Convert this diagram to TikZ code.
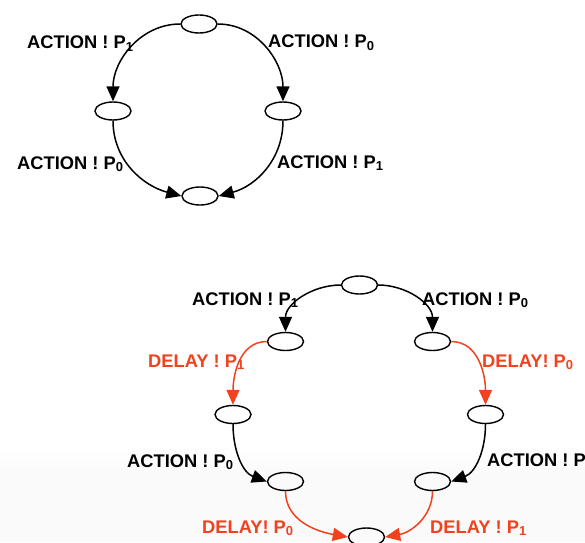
\documentclass[tikz,border=0pt]{standalone}
\usepackage{fontspec}
\setmainfont{Liberation Sans}
\usetikzlibrary{shapes.geometric,arrows.meta}
\definecolor{dred}{RGB}{240,66,30}
\newcommand{\lbl}[2]{#1\raisebox{-2.8pt}{\fontsize{13}{13}\selectfont #2}}
\begin{document}
\begin{tikzpicture}[x=1pt,y=1pt,
  st/.style={ellipse,draw,line width=1.4pt,minimum width=36pt,minimum height=18pt,inner sep=0pt},
  tr/.style={line width=1.5pt,-{Triangle[length=15pt,width=13pt]}},
  rtr/.style={tr,draw=dred},
  txt/.style={font=\fontsize{18.3}{18.3}\selectfont\bfseries,anchor=base west,inner sep=0pt},
  rtxt/.style={txt,text=dred}]
\useasboundingbox (0,0) rectangle (585,542);
\fill[black!2] (0,0) rectangle (585,65);
\shade[top color=white,bottom color=black!2] (0,65) rectangle (585,100);
% top diagram
\node[st] (t1) at (199,518) {};
\node[st] (l1) at (113,431) {};
\node[st] (r1) at (283,431) {};
\node[st] (b1) at (200,346) {};
\draw[tr] (t1.west) to[out=180,in=90] (l1.north);
\draw[tr] (t1.east) to[out=0,in=90] (r1.north);
\draw[tr] (l1.south) to[out=-90,in=165] (b1.west);
\draw[tr] (r1.south) to[out=-90,in=15] (b1.east);
\node[txt] (a1) at (27,493) {\lbl{ACTION ! P}{1}};
\node[txt] (a2) at (268,494) {\lbl{ACTION ! P}{0}};
\node[txt] (a3) at (17,373) {\lbl{ACTION ! P}{0}};
\node[txt] (a4) at (277,374) {\lbl{ACTION ! P}{1}};
% bottom diagram
\node[st] (t2) at (359.5,257) {};
\node[st] (ul) at (285.5,200.5) {};
\node[st] (ur) at (432.5,200.5) {};
\node[st] (ml) at (233,127.5) {};
\node[st] (mr) at (485.5,127.5) {};
\node[st] (ll) at (285.5,60.5) {};
\node[st] (lr) at (432.5,60.5) {};
\node[st] (bt) at (366.5,5) {};
\draw[tr] (t2.west) to[out=180,in=90] (ul.north);
\draw[tr] (t2.east) to[out=0,in=90] (ur.north);
\draw[rtr] (ul.west) to[out=180,in=90] (ml.north);
\draw[rtr] (ur.east) to[out=0,in=90] (mr.north);
\draw[tr] (ml.south) to[out=-90,in=160] (ll.west);
\draw[tr] (mr.south) to[out=-90,in=20] (lr.east);
\draw[rtr] (ll.south) to[out=-90,in=170] (bt.west);
\draw[rtr] (lr.south) to[out=-90,in=10] (bt.east);
\node[txt] (c1) at (192,237) {\lbl{ACTION ! P}{1}};
\node[txt] (c2) at (422,237) {\lbl{ACTION ! P}{0}};
\node[rtxt] (d1) at (148,175) {\lbl{DELAY ! P}{1}};
\node[rtxt] (d2) at (482,175) {\lbl{DELAY! P}{0}};
\node[txt] (c3) at (127,75) {\lbl{ACTION ! P}{0}};
\node[txt] (c4) at (487,76) {\lbl{ACTION ! P}{1}};
\node[rtxt] (d3) at (202,9) {\lbl{DELAY! P}{0}};
\node[rtxt] (d4) at (430,9) {\lbl{DELAY ! P}{1}};
\end{tikzpicture}
\end{document}
